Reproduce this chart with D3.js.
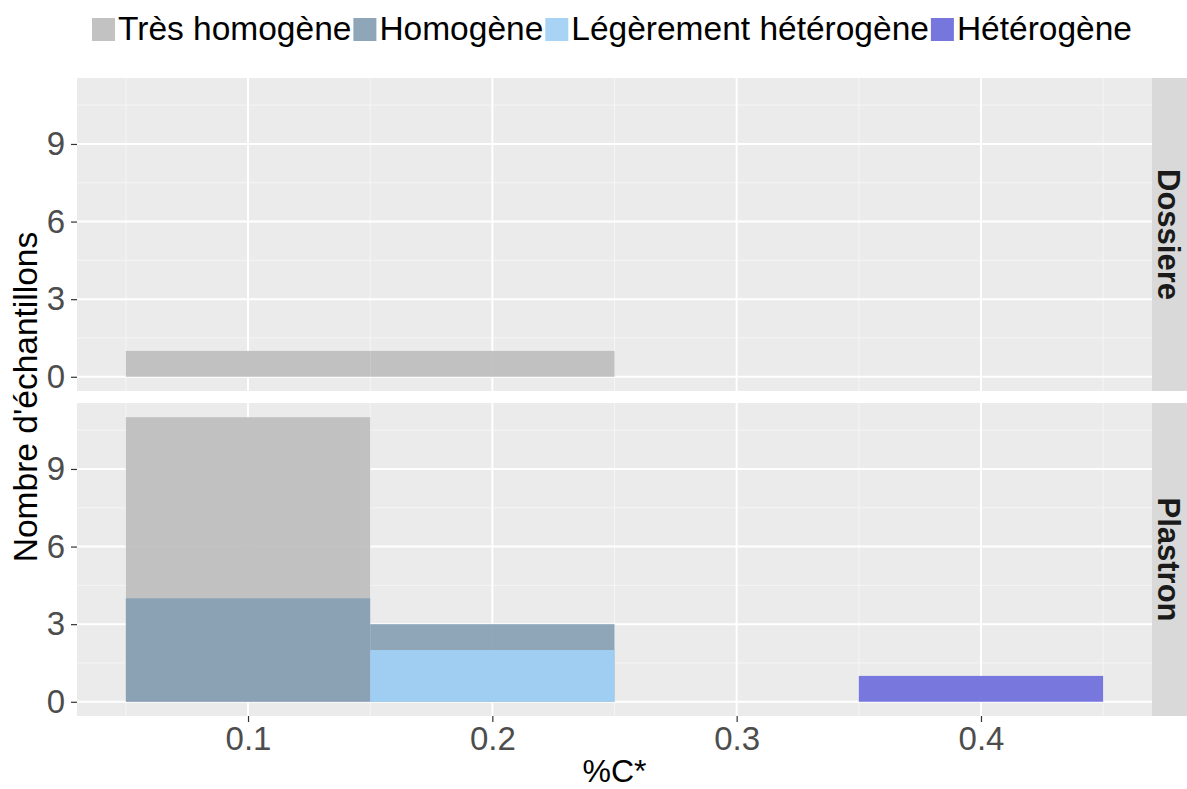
<!DOCTYPE html>
<html>
<head>
<meta charset="utf-8">
<script src="https://cdn.jsdelivr.net/npm/d3@7"></script>
<style>
  html, body { margin: 0; padding: 0; background: #fff; }
  svg text { font-family: "Liberation Sans", Arial, sans-serif; }
</style>
</head>
<body>
<svg id="chart" width="1187" height="789"></svg>
<script>
// Histogram bins (centres) and bin width of %C*
const binCenters = [0.1, 0.2, 0.3, 0.4];
const binWidth = 0.1;

// Homogeneity classes, drawn in this order
const categories = ["Très homogène", "Homogène", "Légèrement hétérogène", "Hétérogène"];
// bar fills (slightly transparent) and the matching legend key fills
const barColors = ["#bdbdbd", "#879fb4", "#a2d1f6", "#6c6cdb"];
const keyColors = ["#c2c2c2", "#8fa6b9", "#a9d3f5", "#7676dc"];

// Facets
const facets = ["Dossiere", "Plastron"];

// Counts per bin, per class, per facet
const dossiereTresHomogene = [1, 1, 0, 0];
const dossiereHomogene = [0, 0, 0, 0];
const dossiereLegerement = [0, 0, 0, 0];
const dossiereHeterogene = [0, 0, 0, 0];

const plastronTresHomogene = [11, 0, 0, 0];
const plastronHomogene = [4, 3, 0, 0];
const plastronLegerement = [0, 2, 0, 0];
const plastronHeterogene = [0, 0, 0, 1];

const yTicks = [0, 3, 6, 9];
const xTicks = [0.1, 0.2, 0.3, 0.4];

const counts = {
  "Dossiere": [dossiereTresHomogene, dossiereHomogene, dossiereLegerement, dossiereHeterogene],
  "Plastron": [plastronTresHomogene, plastronHomogene, plastronLegerement, plastronHeterogene]
};

const svg = d3.select("#chart");

const panelLeft = 77, panelRight = 1152;
const stripW = 35;
const panels = [{ top: 78, bottom: 391 }, { top: 403, bottom: 716 }];

const x = d3.scaleLinear().domain([0.03, 0.47]).range([panelLeft, panelRight]);
const yMax = 11;

facets.forEach((facet, fi) => {
  const p = panels[fi];
  const y = d3.scaleLinear().domain([-0.55, yMax + 0.55]).range([p.bottom, p.top]);
  const g = svg.append("g");

  // panel background
  g.append("rect")
    .attr("x", panelLeft).attr("y", p.top)
    .attr("width", panelRight - panelLeft).attr("height", p.bottom - p.top)
    .attr("fill", "#ebebeb");

  // minor grid
  const yMinor = [1.5, 4.5, 7.5, 10.5];
  const xMinor = [0.05, 0.15, 0.25, 0.35, 0.45];
  g.selectAll(".ymin").data(yMinor).enter().append("line")
    .attr("x1", panelLeft).attr("x2", panelRight)
    .attr("y1", d => y(d)).attr("y2", d => y(d))
    .attr("stroke", "#f5f5f5").attr("stroke-width", 1);
  g.selectAll(".xmin").data(xMinor).enter().append("line")
    .attr("y1", p.top).attr("y2", p.bottom)
    .attr("x1", d => x(d)).attr("x2", d => x(d))
    .attr("stroke", "#f5f5f5").attr("stroke-width", 1);

  // major grid
  g.selectAll(".ymaj").data(yTicks).enter().append("line")
    .attr("x1", panelLeft).attr("x2", panelRight)
    .attr("y1", d => y(d)).attr("y2", d => y(d))
    .attr("stroke", "#ffffff").attr("stroke-width", 2);
  g.selectAll(".xmaj").data(xTicks).enter().append("line")
    .attr("y1", p.top).attr("y2", p.bottom)
    .attr("x1", d => x(d)).attr("x2", d => x(d))
    .attr("stroke", "#ffffff").attr("stroke-width", 2);

  // bars, one layer per class
  categories.forEach((cat, ci) => {
    const vals = counts[facet][ci];
    const bars = binCenters.map((c, i) => ({ c, v: vals[i] })).filter(d => d.v > 0);
    g.selectAll(".bar" + ci).data(bars).enter().append("rect")
      .attr("x", d => x(d.c - binWidth / 2))
      .attr("width", d => x(d.c + binWidth / 2) - x(d.c - binWidth / 2))
      .attr("y", d => y(d.v))
      .attr("height", d => y(0) - y(d.v))
      .attr("fill", barColors[ci])
      .attr("fill-opacity", 0.92);
  });

  // y axis
  const yAxis = d3.axisLeft(y).tickValues(yTicks).tickSize(6).tickPadding(6);
  const ya = g.append("g").attr("transform", `translate(${panelLeft},0)`).call(yAxis);
  ya.select(".domain").remove();
  ya.selectAll("line").attr("stroke", "#333333").attr("stroke-width", 1.2);
  ya.selectAll("text").attr("fill", "#4d4d4d").style("font-size", "33px");

  // strip
  g.append("rect")
    .attr("x", panelRight).attr("y", p.top)
    .attr("width", stripW).attr("height", p.bottom - p.top)
    .attr("fill", "#d9d9d9");
  const cy = (p.top + p.bottom) / 2;
  g.append("text")
    .attr("transform", `translate(1158,${cy}) rotate(90)`)
    .attr("text-anchor", "middle")
    .attr("fill", "#1a1a1a")
    .style("font-size", "31px")
    .style("font-weight", "bold")
    .text(facet);

  // x axis on the bottom panel only
  if (fi === facets.length - 1) {
    const xAxis = d3.axisBottom(x).tickValues(xTicks).tickSize(6).tickPadding(5).tickFormat(d3.format(".1f"));
    const xa = g.append("g").attr("transform", `translate(0,${p.bottom})`).call(xAxis);
    xa.select(".domain").remove();
    xa.selectAll("line").attr("stroke", "#333333").attr("stroke-width", 1.2);
    xa.selectAll("text").attr("fill", "#4d4d4d").style("font-size", "33px");
  }
});

// axis titles
svg.append("text")
  .attr("x", (panelLeft + panelRight) / 2).attr("y", 782)
  .attr("text-anchor", "middle")
  .attr("fill", "#000")
  .style("font-size", "32px")
  .text("%C*");

svg.append("text")
  .attr("transform", `translate(37,${(panels[0].top + panels[1].bottom) / 2}) rotate(-90)`)
  .attr("text-anchor", "middle")
  .attr("fill", "#000")
  .style("font-size", "33.5px")
  .text("Nombre d'échantillons");

// legend across the top
const legend = svg.append("g");
let lx = 92;
categories.forEach((cat, ci) => {
  legend.append("rect")
    .attr("x", lx).attr("y", 18).attr("width", 23).attr("height", 23)
    .attr("fill", keyColors[ci]);
  const t = legend.append("text")
    .attr("x", lx + 26).attr("y", 40)
    .attr("fill", "#000")
    .style("font-size", "33.5px")
    .text(cat);
  lx += 26 + t.node().getComputedTextLength() + 2;
});
</script>
</body>
</html>
